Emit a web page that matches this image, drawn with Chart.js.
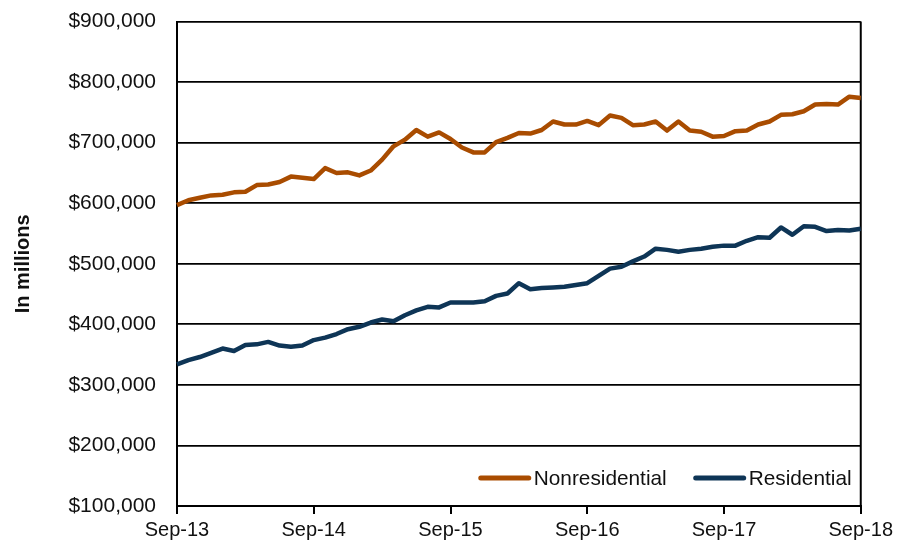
<!DOCTYPE html>
<html>
<head>
<meta charset="utf-8">
<script src="https://cdn.jsdelivr.net/npm/chart.js@4.4.0/dist/chart.umd.min.js"></script>
<style>
  body { margin: 0; background: #fff; }
  #wrap { width: 897px; height: 550px; overflow: hidden; position: relative; }
  #constructionChart { position: absolute; left: 0; top: -12px; }
</style>
</head>
<body>
<div id="wrap"><canvas id="constructionChart" width="897" height="562"></canvas></div>
<script>
// Monthly, Sep-13 .. Sep-18 (in millions of dollars)
const months = [
    'Sep-13','Oct-13','Nov-13','Dec-13','Jan-14','Feb-14','Mar-14','Apr-14','May-14','Jun-14','Jul-14','Aug-14',
    'Sep-14','Oct-14','Nov-14','Dec-14','Jan-15','Feb-15','Mar-15','Apr-15','May-15','Jun-15','Jul-15','Aug-15',
    'Sep-15','Oct-15','Nov-15','Dec-15','Jan-16','Feb-16','Mar-16','Apr-16','May-16','Jun-16','Jul-16','Aug-16',
    'Sep-16','Oct-16','Nov-16','Dec-16','Jan-17','Feb-17','Mar-17','Apr-17','May-17','Jun-17','Jul-17','Aug-17',
    'Sep-17','Oct-17','Nov-17','Dec-17','Jan-18','Feb-18','Mar-18','Apr-18','May-18','Jun-18','Jul-18','Aug-18',
    'Sep-18'
];

const nonresidential = [
    597000, 605000, 609000, 613000, 614000, 618000, 619000, 630000, 631000, 635000, 644000, 642000,
    640000, 658000, 650000, 651000, 646000, 654000, 672000, 694000, 705000, 721000, 710000, 717000,
    706000, 692000, 684000, 684000, 701000, 708000, 716000, 715000, 721000, 735000, 730000, 730000,
    736000, 729000, 745000, 741000, 729000, 730000, 735000, 720000, 735000, 720000, 718000, 710000,
    711000, 719000, 720000, 730000, 735000, 746000, 747000, 752000, 763000, 764000, 763000, 776000,
    774000
];

const residential = [
    334000, 341000, 346000, 353000, 360000, 356000, 366000, 367000, 371000, 365000, 363000, 365000,
    374000, 378000, 384000, 392000, 396000, 403000, 408000, 405000, 415000, 423000, 429000, 428000,
    436000, 436000, 436000, 438000, 447000, 451000, 468000, 458000, 460000, 461000, 462000, 465000,
    468000, 480000, 492000, 495000, 504000, 512000, 525000, 523000, 520000, 523000, 525000, 528000,
    530000, 530000, 538000, 544000, 543000, 560000, 548000, 562000, 561000, 554000, 556000, 555000,
    558000
];

const seriesNames = ['Nonresidential', 'Residential'];
const seriesColors = ['#A94C00', '#0E3556'];

const FONT = "'Liberation Sans', Arial, sans-serif";

// legend drawn inside the plot, bottom right
const insideLegend = {
    id: 'insideLegend',
    afterDraw(chart) {
        const ctx = chart.ctx;
        const area = chart.chartArea;
        const y = area.bottom - 28;
        let x = area.right - 382;
        ctx.save();
        ctx.font = '20.8px ' + FONT;
        ctx.textBaseline = 'middle';
        chart.data.datasets.forEach(ds => {
            ctx.strokeStyle = ds.borderColor;
            ctx.lineWidth = 5;
            ctx.lineCap = 'round';
            ctx.beginPath();
            ctx.moveTo(x + 2, y);
            ctx.lineTo(x + 50, y);
            ctx.stroke();
            ctx.fillStyle = '#111';
            ctx.fillText(ds.label, x + 55, y + 1);
            x += 55 + ctx.measureText(ds.label).width + 27;
        });
        ctx.restore();
    }
};

// right-hand frame line
const frame = {
    id: 'frame',
    beforeDatasetsDraw(chart) {
        const ctx = chart.ctx;
        const a = chart.chartArea;
        ctx.save();
        ctx.strokeStyle = '#000';
        ctx.lineWidth = 2;
        ctx.beginPath();
        ctx.moveTo(a.right, a.top);
        ctx.lineTo(a.right, a.bottom);
        ctx.stroke();
        ctx.restore();
    }
};

new Chart(document.getElementById('constructionChart').getContext('2d'), {
    type: 'line',
    data: {
        labels: months,
        datasets: [
            {
                label: seriesNames[0],
                data: nonresidential,
                borderColor: seriesColors[0],
                backgroundColor: seriesColors[0],
                borderWidth: 4.5,
                pointRadius: 0,
                tension: 0,
                borderJoinStyle: 'round'
            },
            {
                label: seriesNames[1],
                data: residential,
                borderColor: seriesColors[1],
                backgroundColor: seriesColors[1],
                borderWidth: 4.5,
                pointRadius: 0,
                tension: 0,
                borderJoinStyle: 'round'
            }
        ]
    },
    options: {
        responsive: false,
        animation: false,
        layout: { padding: { top: 0, right: 33, left: 0, bottom: 0 } },
        plugins: {
            legend: { display: false },
            tooltip: { enabled: false }
        },
        scales: {
            x: {
                offset: false,
                afterFit: s => { s.height = 44; },
                grid: {
                    drawOnChartArea: false,
                    tickLength: 8,
                    tickColor: c => (c.index % 12 === 0 ? '#000' : 'rgba(0,0,0,0)'),
                    lineWidth: 2
                },
                border: { color: '#000', width: 2 },
                ticks: {
                    autoSkip: false,
                    maxRotation: 0,
                    padding: 4,
                    color: '#111',
                    font: { family: FONT, size: 20 },
                    callback: function (v, i) { return i % 12 === 0 ? this.getLabelForValue(v) : ''; }
                }
            },
            y: {
                min: 100000,
                max: 900000,
                afterFit: s => { s.width = 177; },
                grid: { color: '#000', lineWidth: 1.8, drawTicks: false },
                border: { color: '#000', width: 2 },
                title: {
                    display: true,
                    text: 'In millions',
                    color: '#111',
                    font: { family: FONT, size: 20, weight: 'bold' },
                    padding: { top: 11, bottom: 0 }
                },
                ticks: {
                    stepSize: 100000,
                    padding: 21,
                    color: '#111',
                    font: { family: FONT, size: 21 },
                    callback: v => '$' + v.toLocaleString('en-US')
                }
            }
        }
    },
    plugins: [frame, insideLegend]
});
</script>
</body>
</html>
